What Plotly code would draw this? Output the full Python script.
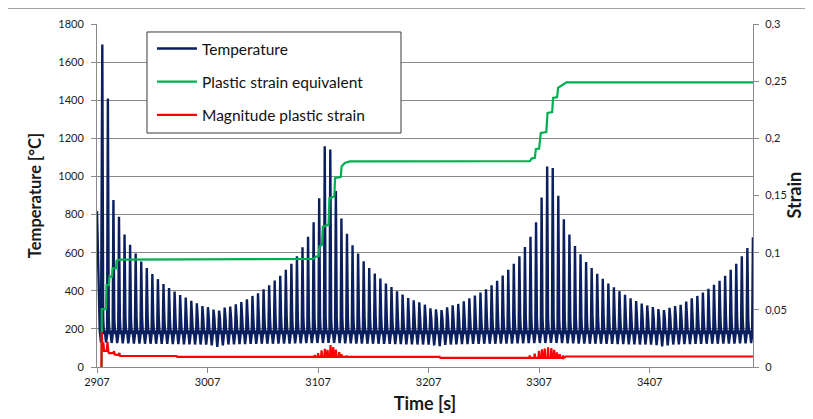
import plotly.graph_objects as go

# ---------------- data ----------------
x_tick_vals = [2907, 3007, 3107, 3207, 3307, 3407]
x_tick_text = ["2907", "3007", "3107", "3207", "3307", "3407"]
temp_tick_vals = [0, 200, 400, 600, 800, 1000, 1200, 1400, 1600, 1800]
strain_tick_vals = [0, 0.05, 0.1, 0.15, 0.2, 0.25, 0.3]
strain_tick_text = ["0", "0,05", "0,1", "0,15", "0,2", "0,25", "0,3"]

# time of the first temperature spike and spacing between spikes [s]
first_peak_time = 2911.8
cycle_period = 5.031

# temperature at the start of the record (before the first spike)
start_t = [2907.0, 2908.4, 2909.5, 2910.6]
start_temp = [818, 420, 190, 128]

# peak temperature of every heating cycle [°C]
peak_temps = [
    1693, 1409, 876, 788, 695, 642, 595, 554, 519, 488, 461, 436, 414, 396, 378, 364, 348, 334, 320, 314, 301,
    296, 312, 317, 329, 341, 355, 373, 387, 408, 429, 454, 479, 510, 542, 581, 628, 683, 760, 885, 1159,
    1142, 923, 779, 699, 639, 595, 555, 520, 490, 464, 438, 420, 397, 380, 362, 350, 340, 327,
    308, 303, 299, 313, 324, 331, 345, 361, 375, 391, 408, 429, 452, 480, 510, 542, 581, 630, 683, 760, 889,
    1052, 1044, 898, 775, 695, 635, 591, 551, 519, 489, 463, 438, 419, 398, 379, 361, 346, 333, 323, 315,
    304, 299, 311, 320, 326, 343, 361, 373, 391, 410, 431, 452, 479, 510, 542, 581, 625, 681,
]

# lowest temperature after every spike [°C]
trough_temps = [
    128, 126, 125, 124, 124, 123, 123, 122, 122, 122, 121, 121, 120, 120, 119, 119, 118, 118, 117, 114, 106,
    114, 118, 119, 120, 120, 121, 121, 122, 122, 122, 123, 123, 123, 124, 124, 125, 125, 126, 126, 127,
    126, 125, 124, 124, 123, 123, 122, 122, 122, 121, 121, 120, 120, 119, 119, 118, 118, 117,
    114, 109, 116, 118, 119, 120, 120, 121, 121, 122, 122, 122, 123, 123, 123, 124, 124, 125, 125, 126, 126,
    127, 126, 125, 124, 124, 123, 123, 122, 122, 122, 121, 121, 120, 120, 119, 119, 118, 118, 117, 115,
    108, 114, 118, 119, 120, 120, 121, 121, 122, 122, 122, 123, 123, 123, 124, 124, 125, 125,
]

# intermediate temperatures within each cooling phase [°C] (after peak: fast drop, shoulder, bump)
cool_drop_temp = 255
cool_shoulder_temp = 172
cool_bump_temp = 192
reheat_temp = 165

# plastic strain equivalent (green)
green_t = [2911.2, 2911.3, 2915.1, 2915.6, 2917.8, 2918.3, 2920.6, 2921.1, 2924.2, 2924.8, 2928.0,
           2961.0, 2962.0, 3102.6, 3105.0, 3107.5, 3108.2, 3110.5, 3111.3, 3116.5, 3117.3, 3121.7,
           3122.4, 3127.5, 3128.3, 3131.2, 3135.8, 3298.5, 3300.5, 3303.2, 3304.0, 3307.0, 3308.5,
           3313.5, 3314.6, 3318.8, 3319.6, 3323.3, 3324.1, 3327.2, 3331.7, 3500.5]
green_v = [0.0, 0.0506, 0.0506, 0.0717, 0.0717, 0.079, 0.079, 0.0863, 0.0863, 0.093, 0.0940,
           0.0940, 0.0945, 0.0945, 0.0965, 0.0970, 0.1053, 0.1068, 0.1228, 0.1243, 0.1477, 0.1491,
           0.1653, 0.1661, 0.1754, 0.1784, 0.1798, 0.1800, 0.1825, 0.1830, 0.1905, 0.1910, 0.2047,
           0.2055, 0.2223, 0.2230, 0.2354, 0.2360, 0.2442, 0.2462, 0.2490, 0.2490]

# magnitude plastic strain (red): start, baseline levels and spike clusters
red_start_t = [2911.0, 2911.3, 2911.7, 2912.8, 2913.4, 2915.8, 2916.5, 2917.3, 2918.0,
               2921.8, 2922.4, 2923.0, 2926.6, 2927.2, 2928.0]
red_start_v = [0.0, 0.0307, 0.0215, 0.0205, 0.0140, 0.0140, 0.0220, 0.0130, 0.0122,
               0.0122, 0.0138, 0.0110, 0.0105, 0.0123, 0.0096]
red_base_t = [2979.0, 2979.6, 3217.0, 3217.6, 3331.0, 3500.5]
red_base_v = [0.0096, 0.0088, 0.0088, 0.0079, 0.0092, 0.0092]
red_spike_t = [3104.1, 3107.1, 3110.2, 3113.2, 3115.6, 3118.3, 3120.7, 3123.1, 3126.1, 3128.2, 3132.8,
               3298.5, 3303.0, 3306.9, 3309.6, 3312.1, 3315.1, 3318.1, 3320.6, 3323.1, 3325.6, 3328.6]
red_spike_v = [0.0105, 0.0122, 0.0145, 0.0158, 0.0150, 0.0192, 0.0175, 0.0152, 0.0130, 0.0112, 0.0098,
               0.0100, 0.0118, 0.0142, 0.0155, 0.0162, 0.0172, 0.0165, 0.0150, 0.0128, 0.0112, 0.0100]

# ---------------- build the polylines ----------------
temp_t = list(start_t)
temp_v = list(start_temp)
n = len(peak_temps)
for k in range(n):
    tp = first_peak_time + k * cycle_period
    temp_t.append(tp)
    temp_v.append(peak_temps[k])
    if k < n - 1:
        temp_t += [tp + 0.8, tp + 1.5, tp + 2.2, tp + 3.4, tp + 4.3]
        temp_v += [cool_drop_temp, cool_shoulder_temp, cool_bump_temp, trough_temps[k], reheat_temp]


def base_at(t):
    level = red_start_v[-1]
    for bt, bv in zip(red_base_t, red_base_v):
        if bt <= t:
            level = bv
    return level


red_pts = list(zip(red_start_t, red_start_v)) + list(zip(red_base_t, red_base_v))
for st, sv in zip(red_spike_t, red_spike_v):
    b = base_at(st)
    red_pts += [(st - 0.5, b), (st, sv), (st + 0.5, b)]
red_pts.sort(key=lambda p: p[0])
red_t = [p[0] for p in red_pts]
red_v = [p[1] for p in red_pts]

# ---------------- figure ----------------
NAVY = "#0B1F5E"
GREEN = "#00B050"
RED = "#FF0000"
GRID = "#8A8A8A"
FONT = "Lato"

fig = go.Figure()
fig.add_trace(go.Scatter(x=temp_t, y=temp_v, mode="lines", name="Temperature",
                         line=dict(color=NAVY, width=2.4), legendgroup="a"))
fig.add_trace(go.Scatter(x=green_t, y=green_v, mode="lines", name="Plastic strain equivalent",
                         line=dict(color=GREEN, width=2.2), yaxis="y2", legendgroup="b"))
fig.add_trace(go.Scatter(x=red_t, y=red_v, mode="lines", name="Magnitude plastic strain",
                         line=dict(color=RED, width=2.2), yaxis="y2", legendgroup="c"))

# the page adds an 8 px body margin, so the figure is 8 px smaller and shifted
fig.update_layout(
    width=805, height=411,
    margin=dict(l=89, r=60, t=16, b=52),
    paper_bgcolor="white", plot_bgcolor="white",
    font=dict(family=FONT, color="#1a1a1a", size=11),
    showlegend=True,
    legend=dict(
        x=0.0838, y=0.9767, xanchor="left", yanchor="top",
        bgcolor="rgba(0,0,0,0)", borderwidth=0,
        font=dict(family=FONT, size=15.5, color="#111"),
        tracegroupgap=10, itemwidth=40,
    ),
    xaxis=dict(
        range=[2907, 3500.5], tickvals=x_tick_vals, ticktext=x_tick_text,
        showgrid=False, zeroline=False, automargin=False,
        showline=True, linecolor=GRID, linewidth=1,
        ticks="outside", ticklen=5, tickcolor=GRID,
        tickfont=dict(size=11),
        title=dict(text="<b>Time [s]</b>", font=dict(size=18), standoff=10),
    ),
    yaxis=dict(
        range=[0, 1800], tickvals=temp_tick_vals,
        showgrid=True, gridcolor=GRID, gridwidth=1, zeroline=False, automargin=False,
        showline=True, linecolor=GRID, linewidth=1,
        ticks="outside", ticklen=5, tickcolor=GRID, ticklabelstandoff=5,
        tickfont=dict(size=11),
        title=dict(text="<b>Temperature [°C]</b>", font=dict(size=16.5), standoff=12),
    ),
    yaxis2=dict(
        range=[0, 0.3], tickvals=strain_tick_vals, ticktext=strain_tick_text,
        overlaying="y", side="right", automargin=False,
        showgrid=False, zeroline=False,
        showline=True, linecolor=GRID, linewidth=1,
        ticks="outside", ticklen=5, tickcolor=GRID, ticklabelstandoff=4,
        tickfont=dict(size=11),
    ),
    annotations=[
        dict(text="<b>Strain</b>", xref="paper", yref="paper", x=1.061, y=0.5,
             xanchor="center", yanchor="middle", textangle=-90, showarrow=False,
             font=dict(family=FONT, size=18, color="#1a1a1a")),
    ],
    shapes=[
        dict(type="line", xref="paper", yref="paper",
             x0=-0.2, x1=1.2, y0=1.0455, y1=1.0455,
             line=dict(color="#9a9a9a", width=1)),
        dict(type="rect", xref="paper", yref="paper", layer="above",
             x0=0.0762, x1=0.4634, y0=0.6822, y1=0.9767,
             fillcolor="white", line=dict(color="#3a3a3a", width=1)),
    ],
)

fig.write_html("out.html")
